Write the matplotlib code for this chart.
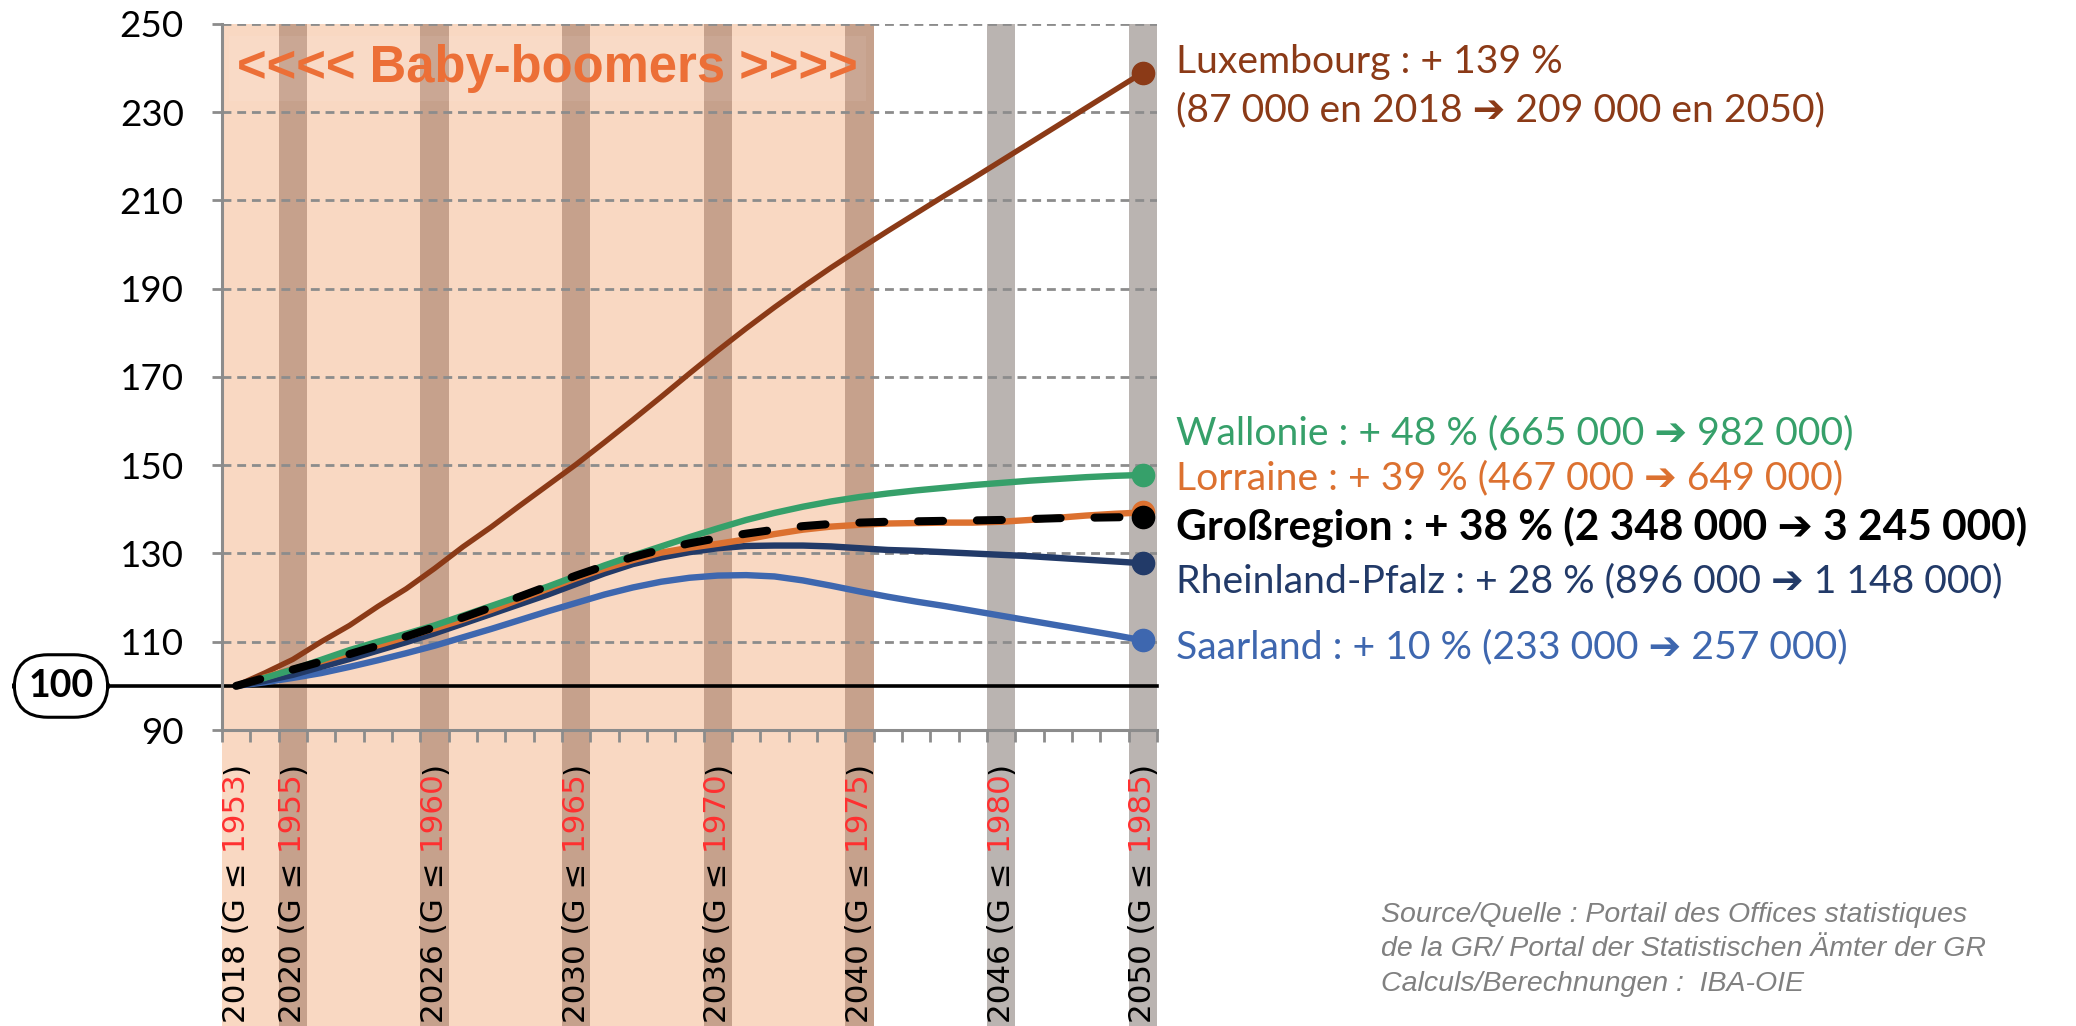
import matplotlib
matplotlib.use("Agg")
import matplotlib.pyplot as plt
import numpy as np

# ---------------- data ----------------
years = list(range(2018, 2051))
luxembourg = [100, 102.9, 106.0, 110.0, 113.7, 118.0, 122.0, 126.6, 131.5, 136.0, 140.8,
              145.5, 150.2, 155.2, 160.3, 165.5, 170.8, 176.0, 181.0, 185.8, 190.4, 194.8,
              199.0, 203.1, 207.1, 211.1, 215.0, 219.0, 223.0, 227.0, 231.0, 235.0, 239.0]
wallonie = [100, 101.8, 103.7, 105.9, 108.1, 110.0, 111.8, 113.7, 115.9, 118.1, 120.3,
            122.5, 124.9, 127.3, 129.5, 131.6, 133.7, 135.7, 137.6, 139.2, 140.6, 141.8,
            142.8, 143.6, 144.3, 144.9, 145.5, 146.0, 146.5, 146.9, 147.3, 147.6, 147.8]
lorraine = [100, 101.9, 103.8, 105.6, 107.4, 109.2, 111.1, 113.0, 115.0, 117.2, 119.6,
            122.0, 124.4, 126.6, 128.5, 130.2, 131.3, 132.2, 133.2, 134.4, 135.4, 136.1,
            136.5, 136.8, 136.9, 137.0, 137.0, 137.2, 137.6, 138.1, 138.6, 139.0, 139.3]
grossregion = [100, 101.8, 103.7, 105.5, 107.2, 109.1, 111.2, 113.3, 115.5, 117.8, 120.2,
               122.6, 125.0, 127.2, 129.2, 130.9, 132.3, 133.5, 134.5, 135.4, 136.2, 136.7,
               137.0, 137.2, 137.3, 137.4, 137.5, 137.6, 137.8, 138.0, 138.1, 138.2, 138.3]
rheinland_pfalz = [100, 101.1, 102.5, 104.3, 106.1, 108.0, 109.9, 111.9, 114.1, 116.3, 118.5,
                   120.7, 123.1, 125.5, 127.6, 129.1, 130.3, 131.2, 131.7, 131.8, 131.8, 131.6,
                   131.2, 130.8, 130.6, 130.3, 130.0, 129.7, 129.4, 129.0, 128.6, 128.2, 127.8]
saarland = [100, 100.8, 101.8, 102.9, 104.3, 105.8, 107.4, 109.1, 111.0, 112.9, 114.9,
            116.9, 118.8, 120.7, 122.3, 123.6, 124.5, 125.0, 125.1, 124.8, 123.9, 122.7,
            121.4, 120.2, 119.1, 118.1, 117.0, 115.9, 114.8, 113.7, 112.6, 111.5, 110.3]

# x labels (shown at category positions)
label_years = [2018, 2020, 2025, 2030, 2035, 2040, 2045, 2050]   # category position
label_texts = ["2018", "2020", "2026", "2030", "2036", "2040", "2046", "2050"]
label_born = ["1953", "1955", "1960", "1965", "1970", "1975", "1980", "1985"]
babyboom_end = 2040

yticks = [90, 110, 130, 150, 170, 190, 210, 230, 250]

right_labels = [
    ("Luxembourg : + 139 %", "#8b3a17", 62, "normal"),
    ("(87 000 en 2018 \u2794 209 000 en 2050)", "#8b3a17", 110, "normal"),
    ("Wallonie : + 48 % (665 000 \u2794 982 000)", "#36a06a", 433, "normal"),
    ("Lorraine : + 39 % (467 000 \u2794 649 000)", "#dc7130", 478, "normal"),
    ("Großregion : + 38 % (2 348 000 \u2794 3 245 000)", "#000000", 527, "bold"),
    ("Rheinland-Pfalz : + 28 % (896 000 \u2794 1 148 000)", "#223a68", 581, "normal"),
    ("Saarland : + 10 % (233 000 \u2794 257 000)", "#3e67af", 647, "normal"),
]

source_lines = ["Source/Quelle : Portail des Offices statistiques",
                "de la GR/ Portal der Statistischen Ämter der GR",
                "Calculs/Berechnungen :  IBA-OIE"]

# ---------------- figure ----------------
W, H = 2076, 1026
fig = plt.figure(figsize=(W / 100, H / 100), dpi=100)
L, R, T, B = 222, 1157, 24, 730
ax = fig.add_axes([L / W, 1 - B / H, (R - L) / W, (B - T) / H])

n = len(years)
x = np.arange(n)
ax.set_xlim(-0.5, n - 0.5)
ax.set_ylim(90, 250)

ext = -(H - B) / (B - T)  # bottom extension in axes fraction

PEACH = "#f9d8c2"
BAND_IN = "#c6a18c"
BAND_OUT = "#bab4b1"

end_idx = years.index(babyboom_end)
p = ax.axvspan(-0.5, end_idx + 0.5, ymin=ext, ymax=1, color=PEACH, lw=0, zorder=0)
p.set_clip_on(False)
for ly in label_years[1:]:
    i = years.index(ly)
    c = BAND_IN if ly <= babyboom_end else BAND_OUT
    b = ax.axvspan(i - 0.5, i + 0.5, ymin=ext, ymax=1, color=c, lw=0, zorder=0.5)
    b.set_clip_on(False)

# grid
for yv in yticks[1:]:
    ax.axhline(yv, color="#8c8c8c", lw=2.0, ls=(0, (3.2, 2.1)), zorder=1)

# 100 line
hl = ax.axhline(100, xmin=-(L - 108) / (R - L), xmax=1, color="black", lw=2.6, zorder=2)
hl.set_clip_on(False)

# series
ax.plot(x, luxembourg, color="#8b3a17", lw=3.9, zorder=4, solid_capstyle="round",
        marker="o", markevery=[n - 1], ms=16)
ax.plot(x, saarland, color="#3e67af", lw=4.6, zorder=4, solid_capstyle="round",
        marker="o", markevery=[n - 1], ms=16)
ax.plot(x, rheinland_pfalz, color="#223a68", lw=4.6, zorder=5, solid_capstyle="round",
        marker="o", markevery=[n - 1], ms=16)
ax.plot(x, lorraine, color="#dc7130", lw=4.6, zorder=5, solid_capstyle="round",
        marker="o", markevery=[n - 1], ms=16)
ax.plot(x, wallonie, color="#36a06a", lw=4.6, zorder=6, solid_capstyle="round",
        marker="o", markevery=[n - 1], ms=16)
ax.plot(x, grossregion, color="black", lw=5.8, zorder=7, ls=(0, (3.1, 4.2)),
        dash_capstyle="round", marker="o", markevery=[n - 1], ms=16)

# spines / ticks
for s in ["top", "right"]:
    ax.spines[s].set_visible(False)
for s in ["left", "bottom"]:
    ax.spines[s].set_color("#8c8c8c")
    ax.spines[s].set_linewidth(2.2)
    ax.spines[s].set_zorder(3)
ax.set_yticks(yticks)
ax.set_yticklabels([str(v) for v in yticks], family=["Lato", "DejaVu Sans"], fontsize=26.5)
ax.tick_params(axis="y", length=7.5, width=2, color="#8c8c8c", pad=20)
ax.set_xticks(np.arange(n + 1) - 0.5)
ax.set_xticklabels([])
ax.tick_params(axis="x", length=8.5, width=2, color="#8c8c8c", direction="out")

# x labels with red part
tr = ax.get_xaxis_transform()
fs_x = 22.3
for ly, lt, lb in zip(label_years, label_texts, label_born):
    i = years.index(ly)
    t1 = ax.annotate(")", xy=(i, 0), xycoords=tr, xytext=(0, -23), textcoords="offset points",
                     rotation=90, ha="center", va="top", fontsize=fs_x, color="black",
                     family="DejaVu Sans", annotation_clip=False, zorder=10)
    t2 = ax.annotate(" " + lb, xy=(0.5, 0), xycoords=t1, rotation=90, ha="center", va="top",
                     fontsize=fs_x, color="#ff3030", family="DejaVu Sans", zorder=10)
    ax.annotate(lt + " (G \u2264", xy=(0.5, 0), xycoords=t2, rotation=90, ha="center", va="top",
                fontsize=fs_x, color="black", family="DejaVu Sans", zorder=10)

# Baby-boomers label
ax.text(0.348, 0.937, "<<<< Baby-boomers >>>>", transform=ax.transAxes, ha="center", va="center",
        fontsize=36.5, fontweight="bold", color="#ec6f37", family="Liberation Sans", zorder=9,
        bbox=dict(facecolor="white", alpha=0.07, edgecolor="none", pad=6))

# 100 box
fig.text(61 / W, 1 - 686 / H, "100", ha="center", va="center", fontsize=27, fontweight="bold",
         family=["Lato", "DejaVu Sans"],
         bbox=dict(boxstyle="round,pad=0.38,rounding_size=0.9", facecolor="white",
                   edgecolor="black", lw=2.2))

# right labels
for txt, col, yc, wt in right_labels:
    fs = 30.5 if wt == "bold" else 28.2
    fig.text(1176 / W, 1 - yc / H, txt, ha="left", va="center", fontsize=fs, color=col,
             fontweight=wt, family=["Lato", "DejaVu Sans"])

# source
for k, s in enumerate(source_lines):
    fig.text(1381 / W, 1 - (915 + 34.5 * k) / H, s, ha="left", va="center", fontsize=20.5,
             style="italic", color="#808080", family=["Liberation Sans", "DejaVu Sans"])

fig.savefig("out.png", dpi=100)
